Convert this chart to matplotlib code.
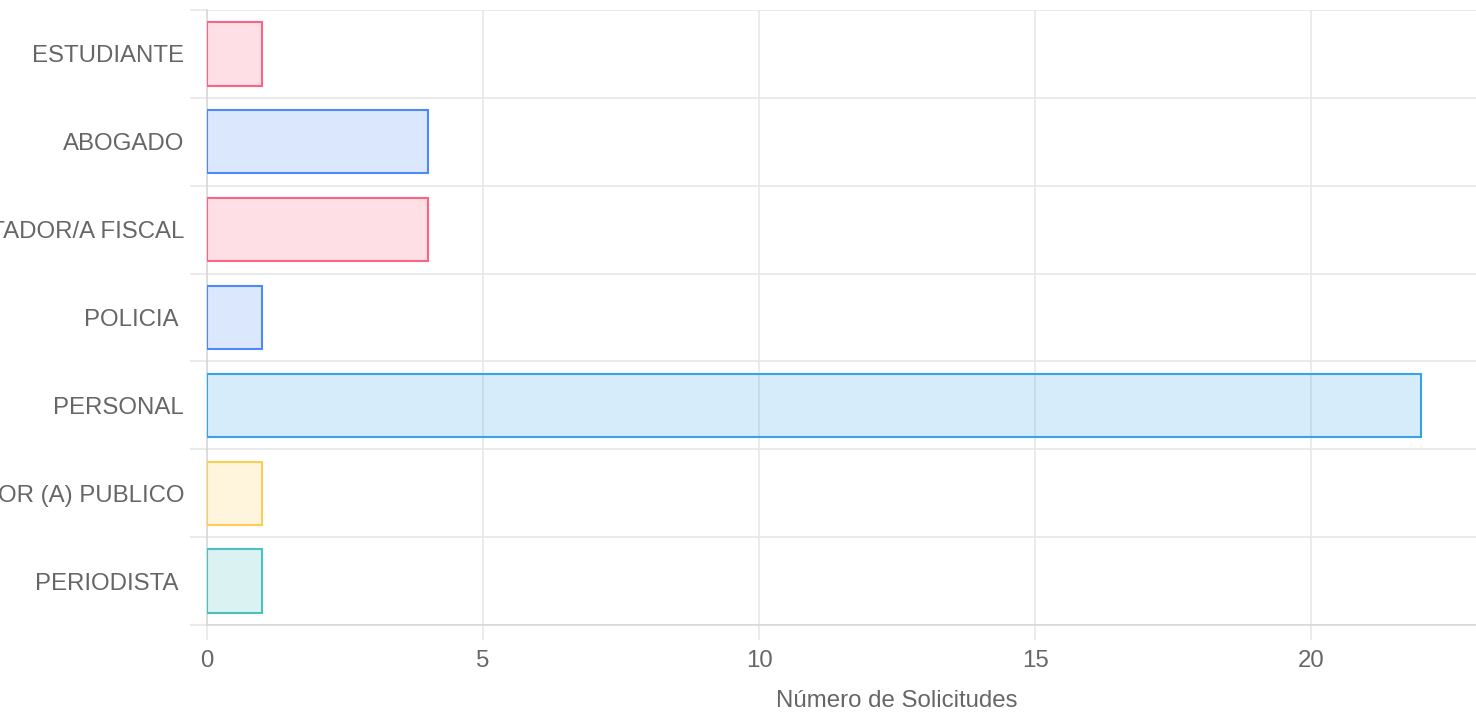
import matplotlib
matplotlib.use('Agg')
import matplotlib.pyplot as plt
import numpy as np

categorias = ['ESTUDIANTE', 'ABOGADO', 'CONTADOR/A FISCAL', 'POLICIA ',
              'PERSONAL', 'SERVIDOR (A) PUBLICO', 'PERIODISTA ']
solicitudes = [1, 4, 4, 1, 22, 1, 1]
bordes = [(255, 99, 132), (77, 137, 249), (255, 99, 132), (77, 137, 249),
          (54, 162, 235), (255, 205, 86), (75, 192, 192)]
ticks_x = [0, 5, 10, 15, 20]

plt.rcParams['font.family'] = ['Liberation Sans', 'DejaVu Sans']
txt = '#666666'
grid = '#e6e6e6'

fig = plt.figure(figsize=(14.76, 7.13), dpi=100)
W, H = 1476, 713
# the chart is cropped: the x axis runs to 25 beyond the right edge
ax = fig.add_axes([207 / W, (H - 625) / H, (1587 - 207) / W, 615 / H])

y = np.arange(len(categorias))
edge = [tuple(c / 255 for c in b) for b in bordes]
fill = [e + (0.2,) for e in edge]
ax.barh(y, solicitudes, height=0.72, color=fill, edgecolor=edge,
        linewidth=1.5, zorder=3)

ax.set_ylim(len(categorias) - 0.5, -0.5)
ax.set_xlim(0, 25)

ax.set_xticks(ticks_x)
ax.set_yticks(y)
ax.set_yticklabels(categorias)
ax.set_yticks(np.arange(-0.5, len(categorias)), minor=True)

ax.tick_params(axis='x', length=10.8, width=1.1, color=grid, pad=7,
               labelsize=17.3, labelcolor=txt)
ax.tick_params(axis='y', which='major', length=0, pad=16.5,
               labelsize=17.3, labelcolor=txt)
ax.tick_params(axis='y', which='minor', length=12.2, width=1.1, color=grid)

ax.grid(axis='x', which='major', color=grid, linewidth=1.1, zorder=0)
ax.grid(axis='y', which='minor', color=grid, linewidth=1.1, zorder=0)
ax.set_axisbelow(True)

for s in ['top', 'right']:
    ax.spines[s].set_visible(False)
ax.spines['left'].set_color('#d6d6d6')
ax.spines['bottom'].set_color('#d6d6d6')
ax.spines['left'].set_linewidth(1.1)
ax.spines['bottom'].set_linewidth(1.1)

ax.set_xlabel('Número de Solicitudes', fontsize=17.3, color=txt, labelpad=13)

fig.savefig('out.png', dpi=100)
